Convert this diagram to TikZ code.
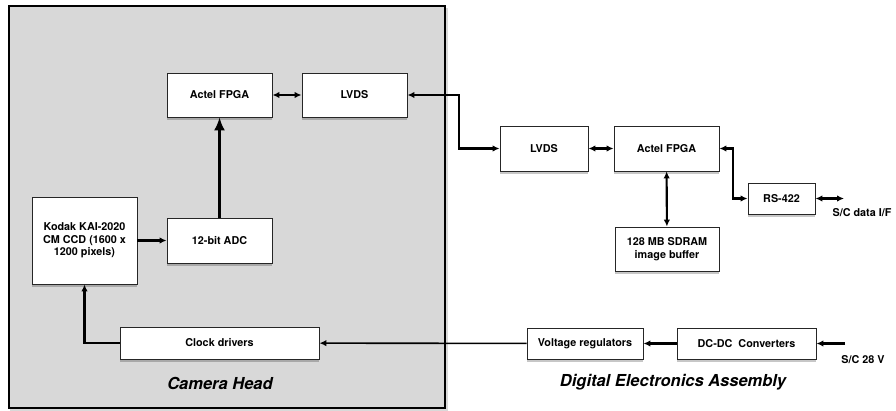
\documentclass[tikz,border=0pt]{standalone}
\usepackage{fontspec}
\setmainfont{TeX Gyre Heros}
\usetikzlibrary{arrows.meta,shadows}
\definecolor{headgray}{HTML}{D8D8D8}
\tikzset{
  blk/.style={draw=black!85, line width=0.9pt, fill=white, align=center, inner sep=1pt,
    font=\fontsize{10.8}{12.6}\selectfont\bfseries,
    drop shadow={shadow xshift=0pt, shadow yshift=-3pt, fill=black, opacity=0.22}},
  conn/.style={line width=2.1pt, arrows={-Latex[length=7pt,width=6.5pt]}},
  bigconn/.style={line width=2.1pt, arrows={-Latex[length=13pt,width=11pt]}},
  dconn/.style={line width=2.1pt, arrows={Latex[length=7pt,width=6.5pt]-Latex[length=7pt,width=6.5pt]}},
  lbl/.style={font=\fontsize{10.8}{12.6}\selectfont\bfseries, inner sep=0pt},
  ttl/.style={font=\fontsize{16.5}{18}\selectfont\bfseries\itshape, inner sep=0pt}
}
\begin{document}
\begin{tikzpicture}[x=1pt,y=-1pt]
\useasboundingbox (0,0) rectangle (896,411);
% camera head enclosure
\fill[black,opacity=0.15] (10,8) rectangle (448,411);
\draw[line width=2.4pt, fill=headgray] (9,6) rectangle (445,408);
% camera head blocks
\node[blk, minimum width=105pt, minimum height=44pt] (fpgaA) at (219.5,95) {Actel FPGA};
\node[blk, minimum width=105pt, minimum height=44pt] (lvdsA) at (354.5,95) {LVDS};
\node[blk, minimum width=105pt, minimum height=87pt] (kodak) at (84.5,240.5) {Kodak KAI-2020\\CM CCD (1600 x\\1200 pixels)};
\node[blk, minimum width=105pt, minimum height=45pt] (adc) at (219.5,240.5) {12-bit ADC};
\node[blk, minimum width=199pt, minimum height=32pt] (clock) at (219.5,343) {Clock drivers};
% DEA blocks
\node[blk, minimum width=88pt, minimum height=45pt] (lvdsB) at (544,148.5) {LVDS};
\node[blk, minimum width=105pt, minimum height=45pt] (fpgaB) at (666.5,148.5) {Actel FPGA};
\node[blk, minimum width=104pt, minimum height=44pt] (sdram) at (667,249) {128 MB SDRAM\\image buffer};
\node[blk, minimum width=67pt, minimum height=31pt] (rs) at (781.5,198.5) {RS-422};
\node[blk, minimum width=116pt, minimum height=31pt] (vreg) at (585,343.5) {Voltage regulators};
\node[blk, minimum width=139pt, minimum height=31pt] (dcdc) at (746.5,343.5) {DC-DC\ \ Converters};
% labels
\node[lbl] (scdata) at (862,213) {S/C data I/F};
\node[lbl] (sc28) at (863,360) {S/C 28 V};
\node[ttl] (camtitle) at (220,383) {Camera Head};
\node[ttl] (deatitle) at (673,382) {Digital Electronics Assembly};
% coordinates
\coordinate (j1) at (459,95);
\coordinate (j2) at (733,148.5);
\coordinate (sc1) at (844,198.5);
\coordinate (sc2) at (845,343.5);
% connectors
\draw[dconn] (fpgaA) -- (lvdsA);
\draw[bigconn] (adc) -- (fpgaA);
\draw[conn] (kodak) -- (adc);
\draw[conn] (clock.west) -| (kodak.south);
\draw[dconn] (lvdsA.east) -- (j1) |- (lvdsB.west);
\draw[dconn] (lvdsB) -- (fpgaB);
\draw[dconn] (fpgaB) -- (sdram);
\draw[dconn] (fpgaB.east) -- (j2) |- (rs.west);
\draw[dconn] (rs.east) -- (sc1);
\draw[conn] (sc2) -- (dcdc.east);
\draw[conn] (dcdc) -- (vreg);
\draw[conn, line width=1.6pt] (vreg) -- (clock);
\end{tikzpicture}
\end{document}
